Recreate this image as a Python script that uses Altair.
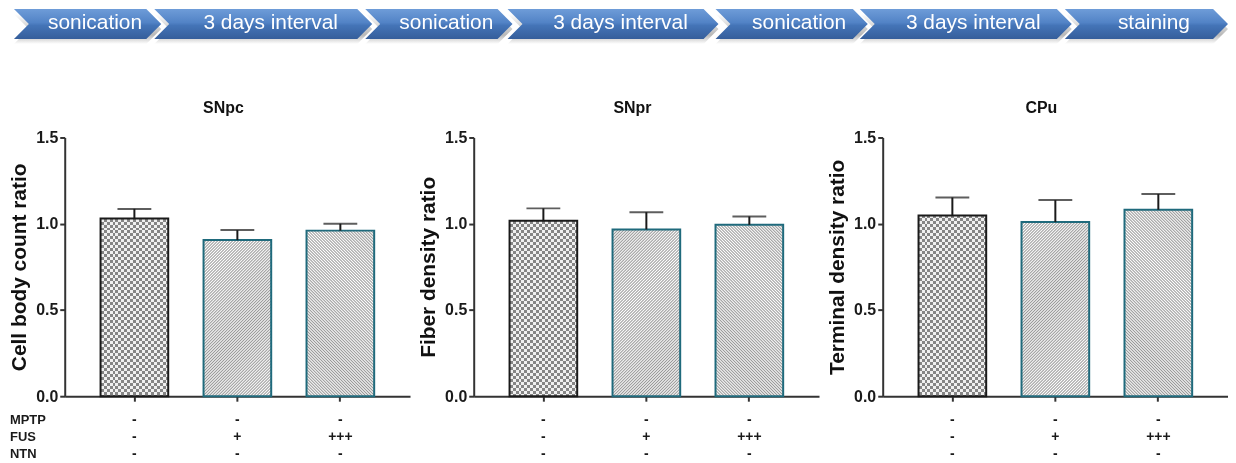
import math
import altair as alt
import pandas as pd

# ---------------- data ----------------
steps = ["sonication", "3 days interval", "sonication", "3 days interval",
         "sonication", "3 days interval", "staining"]

regions = ["SNpc", "SNpr", "CPu"]
y_titles = ["Cell body count ratio", "Fiber density ratio", "Terminal density ratio"]
groups = ["ctrl", "fus1", "fus3"]
mptp = ["-", "-", "-"]
fus = ["-", "+", "+++"]
ntn = ["-", "-", "-"]
row_names = ["MPTP", "FUS", "NTN"]

means_snpc = [1.03, 0.905, 0.96]
sems_snpc = [0.056, 0.058, 0.04]
means_snpr = [1.017, 0.967, 0.994]
sems_snpr = [0.072, 0.10, 0.048]
means_cpu = [1.048, 1.01, 1.081]
sems_cpu = [0.104, 0.127, 0.091]

means_all = [means_snpc, means_snpr, means_cpu]
sems_all = [sems_snpc, sems_snpr, sems_cpu]

# ---------------- layout / style ----------------
FONT = "Liberation Sans"
PW, PH = 347, 260
Y_MAX = 1.5
P_IN, P_OUT = 0.343, 0.348
STEP = PW / (3 - P_IN + 2 * P_OUT)
BW = STEP * (1 - P_IN)
DARK = "#1a1a1a"
TEAL = "#1f6a7c"
X0 = 63            # page x of first plot's left edge
X1 = 1232          # page x of last plot's right edge
ROWS_Y = [PH + 24, PH + 41, PH + 58]

# banner layout (page px): left edge and tip of each chevron
step_left = [12, 153, 365, 508, 717, 862, 1068]
step_tip = [160, 372, 513, 720, 870, 1075, 1232]
TIP = 15
CH = 30


def stripes_axis(length, cell, ca, cb, vertical):
    n = length / (2 * cell)
    stops = []
    k = 0
    while True:
        o0 = k / n
        if o0 >= 1:
            break
        o1 = min((k + 0.5) / n, 1)
        o2 = min((k + 1) / n, 1)
        stops += [alt.GradientStop(offset=round(o0, 5), color=ca),
                  alt.GradientStop(offset=round(o1, 5), color=ca),
                  alt.GradientStop(offset=round(o1, 5), color=cb),
                  alt.GradientStop(offset=round(o2, 5), color=cb)]
        k += 1
    if vertical:
        return alt.LinearGradient(gradient="linear", stops=stops, x1=0, x2=1, y1=0, y2=0)
    return alt.LinearGradient(gradient="linear", stops=stops, x1=0, x2=0, y1=0, y2=1)


def hatch(w, h, period, diag, line="#999999", bg="#ffffff"):
    s = (w + h) / (w * w + h * h)
    p, q = s * w, s * h
    n = (w + h) / (math.sqrt(2) * period)
    stops = []
    k = 0
    while True:
        o0 = k / n
        if o0 > 1:
            break
        stops.append(alt.GradientStop(offset=round(o0, 5), color=line))
        o1 = (k + 0.5) / n
        if o1 <= 1:
            stops.append(alt.GradientStop(offset=round(o1, 5), color=bg))
        k += 1
    if diag == "/":
        x1, y1, x2, y2 = 0, 0, p, q
    else:
        x1, y1, x2, y2 = 0, 1, p, 1 - q
    return alt.LinearGradient(gradient="linear", stops=stops,
                              x1=round(x1, 6), y1=round(y1, 6),
                              x2=round(x2, 6), y2=round(y2, 6))


def panel(i):
    means = means_all[i]
    sems = sems_all[i]
    df = pd.DataFrame({
        "group": groups,
        "mean": means,
        "upper": [m + s for m, s in zip(means, sems)],
        "mptp": mptp, "fus": fus, "ntn": ntn,
    })
    base = alt.Chart(df)
    x = alt.X("group:N", sort=groups,
              scale=alt.Scale(domain=groups, paddingInner=P_IN, paddingOuter=P_OUT),
              axis=alt.Axis(labels=False, title=None, tickSize=5, tickWidth=2,
                            tickColor="#333333", domainWidth=2, domainColor="#333333"))
    y = alt.Y("mean:Q",
              scale=alt.Scale(domain=[0, Y_MAX], nice=False, zero=True),
              axis=alt.Axis(values=[0, 0.5, 1.0, 1.5], format=".1f", grid=False,
                            title=y_titles[i], titleFontSize=21, titleFontWeight="bold",
                            titleColor="#111111", titleFont=FONT,
                            titleX=-45, titleY=PH / 2, titleAngle=270,
                            titleAlign="center", titleBaseline="middle",
                            labelFont=FONT, labelFontSize=16, labelFontWeight="bold",
                            labelColor="#1a1a1a", labelPadding=2,
                            tickSize=5, tickWidth=2, tickColor="#333333",
                            domainWidth=2, domainColor="#333333"))

    layers = []
    # bar 1 : checker pattern (difference blending of two stripe sets)
    h1 = means[0] * PH / Y_MAX
    cell = 3.0
    g_ctrl = base.transform_filter(alt.datum.group == groups[0])
    layers.append(g_ctrl.mark_bar(fill=stripes_axis(BW, cell, "#000000", "#6b6b6b", True),
                                  strokeWidth=0).encode(x=x, y=y))
    layers.append(g_ctrl.mark_bar(fill=stripes_axis(h1, cell, "#000000", "#6b6b6b", False),
                                  strokeWidth=0, blend="difference").encode(x=x, y=y))
    layers.append(g_ctrl.mark_bar(fill="#f0f0f0", strokeWidth=0,
                                  blend="difference").encode(x=x, y=y))
    # bars 2 and 3 : hatching
    for j, d in [(1, "/"), (2, "\\")]:
        hj = means[j] * PH / Y_MAX
        layers.append(base.transform_filter(alt.datum.group == groups[j])
                      .mark_bar(fill=hatch(BW, hj, 3 / math.sqrt(2), d), strokeWidth=0)
                      .encode(x=x, y=y))
    # outlines
    layers.append(base.mark_bar(fillOpacity=0, strokeWidth=2).encode(
        x=x, y=y,
        stroke=alt.Stroke("group:N", scale=alt.Scale(domain=groups, range=[DARK, TEAL, TEAL]),
                          legend=None)))
    # error bars
    layers.append(base.mark_rule(color=DARK, strokeWidth=2).encode(
        x=x, y="mean:Q", y2="upper:Q"))
    layers.append(base.mark_tick(color=DARK, thickness=2, size=34).encode(
        x=x, y="upper:Q"))
    # condition rows
    for field, yy in zip(["mptp", "fus", "ntn"], ROWS_Y):
        layers.append(base.mark_text(font=FONT, fontSize=14, fontWeight="bold",
                                     color=DARK, baseline="middle").encode(
            x=x, y=alt.value(yy), text=f"{field}:N"))
    if i == 0:
        for name, yy in zip(row_names, ROWS_Y):
            layers.append(alt.Chart(pd.DataFrame({"name": [name]})).mark_text(
                font=FONT, fontSize=13, fontWeight="bold", color=DARK,
                align="left", baseline="middle").encode(
                x=alt.value(-55), y=alt.value(yy), text="name:N"))

    return alt.layer(*layers).properties(
        width=PW, height=PH,
        title=alt.TitleParams(regions[i], font=FONT, fontSize=16, fontWeight="bold",
                              color="#111111", dx=-14, offset=14))


# ---------------- banner ----------------
paths, cxs, txs = [], [], []
for L, X in zip(step_left, step_tip):
    W = X - L
    hw, hh = W / 2, CH / 2
    paths.append(f"M{-hw},{-hh}L{hw - TIP},{-hh}L{hw},0L{hw - TIP},{hh}L{-hw},{hh}L{-hw + TIP},0Z")
    cxs.append(L + W / 2)
    txs.append((L + TIP + X) / 2)
bdf = pd.DataFrame({"label": steps, "cx": cxs, "tx": txs, "path": paths})
bx_scale = alt.Scale(domain=[X0, X1], nice=False, zero=False)
blue = alt.LinearGradient(gradient="linear", x1=0, x2=0, y1=0, y2=1, stops=[
    alt.GradientStop(offset=0, color="#6e9cd8"),
    alt.GradientStop(offset=0.45, color="#5283c6"),
    alt.GradientStop(offset=0.55, color="#4474b7"),
    alt.GradientStop(offset=1, color="#355e9b")])
shade = alt.LinearGradient(gradient="linear", x1=0, x2=0, y1=0, y2=1, stops=[
    alt.GradientStop(offset=0, color="#ffffff"),
    alt.GradientStop(offset=0.7, color="#b8b8b8"),
    alt.GradientStop(offset=1, color="#ffffff")])
bbase = alt.Chart(bdf)
banner = alt.layer(
    bbase.mark_point(filled=True, size=4, opacity=1, fill=shade, strokeWidth=0, yOffset=5).encode(
        x=alt.X("cx:Q", scale=bx_scale, axis=None), y=alt.value(CH / 2),
        shape=alt.Shape("path:N", scale=None)),
    bbase.mark_point(filled=True, size=4, opacity=1, fill=blue, strokeWidth=0).encode(
        x=alt.X("cx:Q", scale=bx_scale, axis=None), y=alt.value(CH / 2),
        shape=alt.Shape("path:N", scale=None)),
    bbase.mark_text(font=FONT, fontSize=21, color="#ffffff", baseline="middle").encode(
        x=alt.X("tx:Q", scale=bx_scale, axis=None), y=alt.value(CH / 2 - 1), text="label:N"),
).properties(width=X1 - X0, height=CH)

panels = alt.hconcat(panel(0), panel(1), panel(2), spacing=64, bounds="flush")
chart = alt.vconcat(banner, panels, spacing=99, bounds="flush").properties(
    padding=0, background="white"
).configure(font=FONT, view=alt.ViewConfig(stroke=None))

chart.save("out.html", embed_options={"renderer": "svg", "actions": False})
